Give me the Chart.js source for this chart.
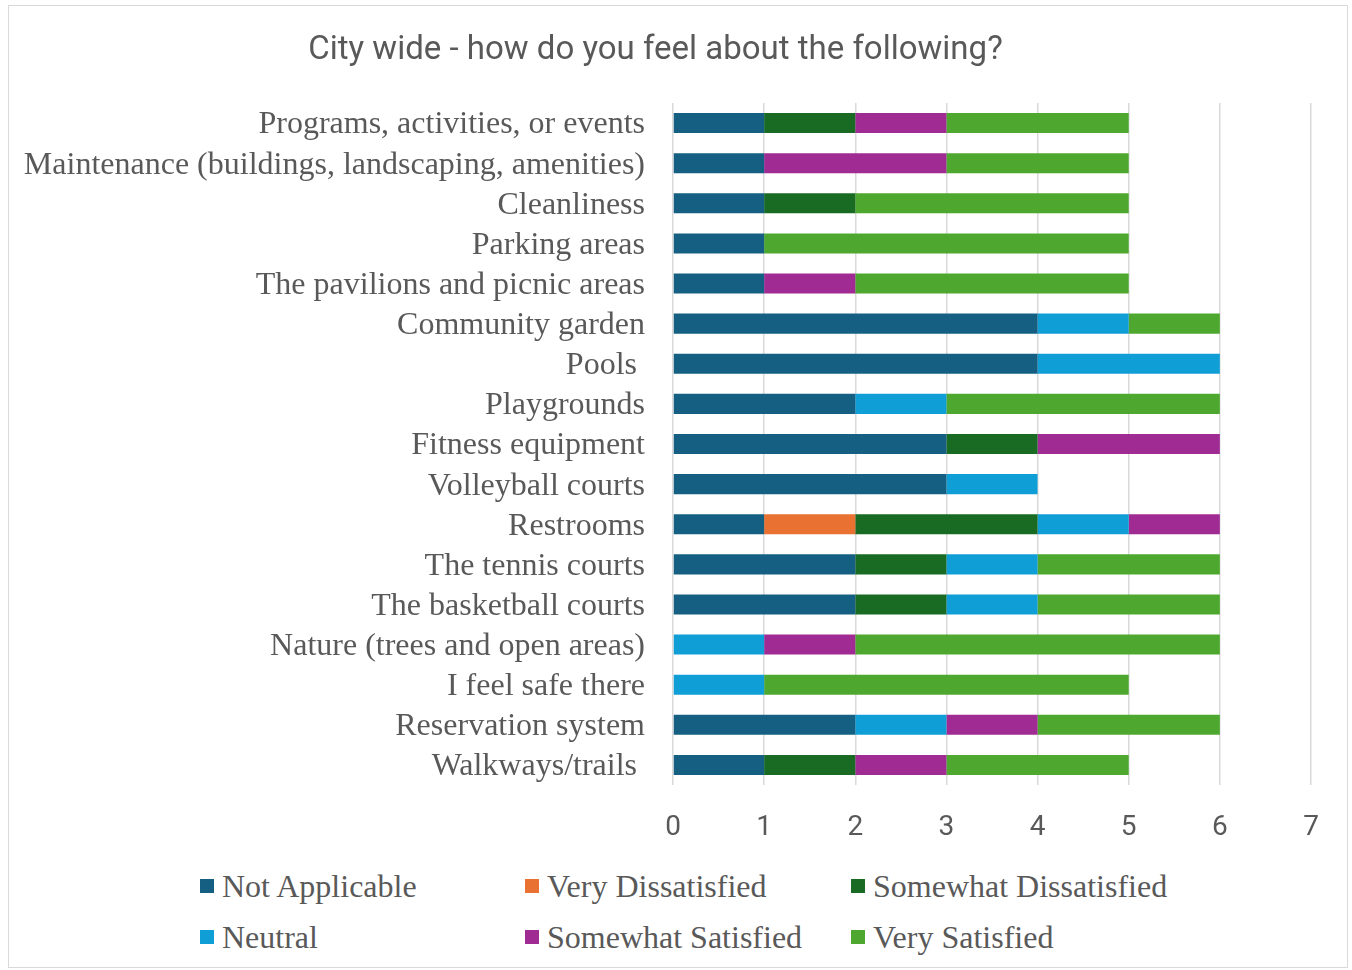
<!DOCTYPE html>
<html>
<head>
<meta charset="utf-8">
<script src="https://cdn.jsdelivr.net/npm/chart.js@4.4.1/dist/chart.umd.min.js"></script>
<style>
  body { margin: 0; background: #fff; }
  #frame {
    position: absolute; left: 8px; top: 5px; width: 1338px; height: 961px;
    border: 1px solid #d9d9d9;
  }
  #chart { position: absolute; left: 0; top: 0; }
  #legend {
    position: absolute; left: 200px; top: 866px;
    display: grid; grid-template-columns: 325px 326px 326px; row-gap: 11px;
    font-family: 'Liberation Serif', 'Times New Roman', serif;
    font-size: 32px; color: #595959;
  }
  .item { display: flex; align-items: center; height: 40px; white-space: nowrap; }
  .box { width: 14px; height: 14px; margin-right: 8px; }
</style>
</head>
<body>
<div id="frame"></div>
<canvas id="chart" width="1352" height="860"></canvas>
<div id="legend"></div>
<script>
const categories = [
  'Programs, activities, or events',
  'Maintenance (buildings, landscaping, amenities)',
  'Cleanliness',
  'Parking areas',
  'The pavilions and picnic areas',
  'Community garden',
  'Pools ',
  'Playgrounds',
  'Fitness equipment',
  'Volleyball courts',
  'Restrooms',
  'The tennis courts',
  'The basketball courts',
  'Nature (trees and open areas)',
  'I feel safe there',
  'Reservation system',
  'Walkways/trails ',
];

const notApplicable         = [1, 1, 1, 1, 1, 4, 4, 2, 3, 3, 1, 2, 2, 0, 0, 2, 1];
const veryDissatisfied      = [0, 0, 0, 0, 0, 0, 0, 0, 0, 0, 1, 0, 0, 0, 0, 0, 0];
const somewhatDissatisfied  = [1, 0, 1, 0, 0, 0, 0, 0, 1, 0, 2, 1, 1, 0, 0, 0, 1];
const neutral               = [0, 0, 0, 0, 0, 1, 2, 1, 0, 1, 1, 1, 1, 1, 1, 1, 0];
const somewhatSatisfied     = [1, 2, 0, 0, 1, 0, 0, 0, 2, 0, 1, 0, 0, 1, 0, 1, 1];
const verySatisfied         = [2, 2, 3, 4, 3, 1, 0, 3, 0, 0, 0, 2, 2, 4, 4, 2, 2];

const seriesNames = ['Not Applicable', 'Very Dissatisfied', 'Somewhat Dissatisfied',
                     'Neutral', 'Somewhat Satisfied', 'Very Satisfied'];
const seriesValues = [notApplicable, veryDissatisfied, somewhatDissatisfied,
                      neutral, somewhatSatisfied, verySatisfied];
const seriesColors = ['#156082', '#E97132', '#196B24', '#0F9ED5', '#A02B93', '#4EA72E'];

const xTicks = [0, 1, 2, 3, 4, 5, 6, 7];

const grey = '#595959';
const sans = "Roboto, 'Open Sans', 'Liberation Sans', sans-serif";
const serif = "'Liberation Serif', 'Times New Roman', serif";

const ctx = document.getElementById('chart').getContext('2d');
const chart = new Chart(ctx, {
  type: 'bar',
  data: {
    labels: categories,
    datasets: seriesNames.map((name, i) => ({
      label: name,
      data: seriesValues[i],
      backgroundColor: seriesColors[i],
      borderWidth: 0,
      barPercentage: 0.5,
      categoryPercentage: 1,
    })),
  },
  options: {
    indexAxis: 'y',
    responsive: false,
    devicePixelRatio: 1,
    animation: false,
    layout: { padding: { left: 0, right: 41, top: 0, bottom: 0 } },
    plugins: {
      legend: { display: false },
      tooltip: { enabled: false },
      title: {
        display: true,
        text: 'City wide - how do you feel about the following?',
        color: grey,
        font: { family: sans, size: 33, weight: 'normal' },
        padding: { top: 31, bottom: 32.4 },
      },
    },
    scales: {
      x: {
        stacked: true,
        min: 0,
        max: 7,
        afterBuildTicks: (scale) => { scale.ticks = xTicks.map(v => ({ value: v })); },
        afterFit: (scale) => { scale.height = 75; },
        grid: { color: '#d9d9d9', lineWidth: 1.5, drawTicks: false },
        border: { display: false },
        ticks: { color: grey, padding: 26, maxRotation: 0, font: { family: sans, size: 28 } },
      },
      y: {
        stacked: true,
        grid: { display: false },
        border: { display: false },
        afterFit: (scale) => { scale.width = 673; },
        ticks: { color: grey, padding: 20, labelOffset: 2, autoSkip: false, font: { family: serif, size: 32 } },
      },
    },
  },
});

const legend = document.getElementById('legend');
chart.data.datasets.forEach((ds) => {
  const item = document.createElement('div');
  item.className = 'item';
  const box = document.createElement('span');
  box.className = 'box';
  box.style.background = ds.backgroundColor;
  item.appendChild(box);
  item.appendChild(document.createTextNode(ds.label));
  legend.appendChild(item);
});
</script>
</body>
</html>
